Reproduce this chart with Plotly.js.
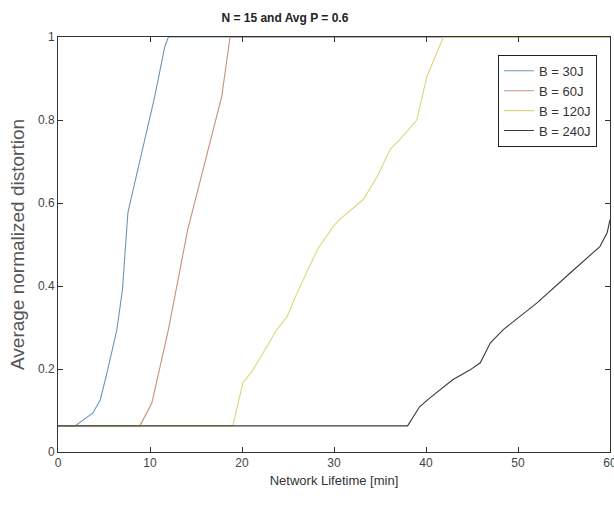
<!DOCTYPE html>
<html>
<head>
<meta charset="utf-8">
<script src="https://cdn.plot.ly/plotly-3.0.1.min.js"></script>
<style>html,body{margin:0;padding:0;background:#fff;}#chart{width:614px;height:512px;}</style>
</head>
<body>
<div id="chart"></div>
<script>
// Data
const seriesNames = ["B = 30J", "B = 60J", "B = 120J", "B = 240J"];

const x30 = [0, 1.85, 3.8, 4.6, 5.4, 6.4, 7.0, 7.3, 7.6, 8.0, 9.1, 10.5, 11.6, 12.0, 60];
const y30 = [0.063, 0.063, 0.094, 0.126, 0.198, 0.295, 0.39, 0.49, 0.577, 0.616, 0.72, 0.855, 0.976, 1.0, 1.0];

const x60 = [0, 8.9, 10.2, 12.0, 14.1, 16.0, 17.8, 18.7, 60];
const y60 = [0.063, 0.063, 0.118, 0.295, 0.536, 0.698, 0.857, 1.0, 1.0];

const x120 = [0, 19.0, 20.1, 21.2, 23.8, 24.9, 26.0, 28.2, 29.9, 30.6, 33.2, 34.7, 36.1, 37.2, 39.0, 39.3, 40.1, 41.9, 60];
const y120 = [0.063, 0.063, 0.167, 0.198, 0.295, 0.326, 0.384, 0.488, 0.543, 0.56, 0.609, 0.664, 0.729, 0.754, 0.80, 0.83, 0.905, 1.0, 1.0];

const x240 = [0, 38.0, 39.3, 40.4, 42.9, 44.8, 45.9, 47.0, 48.4, 52.1, 55.7, 58.9, 59.7, 60];
const y240 = [0.063, 0.063, 0.109, 0.13, 0.174, 0.198, 0.215, 0.263, 0.295, 0.36, 0.432, 0.495, 0.529, 0.56];

const xTicks = [0, 10, 20, 30, 40, 50, 60];
const yTicks = [0, 0.2, 0.4, 0.6, 0.8, 1];
const yTickText = ["0", "0.2", "0.4", "0.6", "0.8", "1"];

const colors = ["#6a97b8", "#c99079", "#dcd67a", "#3a3a3a"];
const xs = [x30, x60, x120, x240];
const ys = [y30, y60, y120, y240];

const FONT = "Liberation Sans, Arial, sans-serif";

const traces = xs.map((x, i) => ({
  x: x, y: ys[i], type: "scatter", mode: "lines", name: seriesNames[i],
  line: {color: colors[i], width: 1.1}
}));

const axisCommon = {
  showgrid: false, zeroline: false, showline: true, linecolor: "#333", linewidth: 1,
  mirror: "ticks", ticks: "inside", ticklen: 5, tickcolor: "#333",
  ticklabeloverflow: "allow",
  tickfont: {family: FONT, size: 12, color: "#444"}
};

const layout = {
  width: 614, height: 512,
  margin: {l: 58, r: 4, t: 37, b: 60},
  paper_bgcolor: "#fff", plot_bgcolor: "#fff",
  title: {text: "N = 15 and Avg P = 0.6", x: 0.464, xanchor: "center", y: 0.966, yanchor: "middle",
          font: {family: FONT, size: 12, color: "#222", weight: "bold"}},
  xaxis: Object.assign({}, axisCommon, {range: [0, 60], tickvals: xTicks,
    title: {text: "Network Lifetime [min]", standoff: 6, font: {family: FONT, size: 13, color: "#333"}}}),
  yaxis: Object.assign({}, axisCommon, {range: [0, 1], tickvals: yTicks, ticktext: yTickText,
    title: {text: "Average normalized distortion", standoff: 8, font: {family: FONT, size: 19, color: "#555"}}}),
  showlegend: true,
  legend: {x: 0.797, y: 0.957, xanchor: "left", yanchor: "top", bgcolor: "#fff",
    bordercolor: "#222", borderwidth: 1, font: {family: FONT, size: 13, color: "#333"},
    tracegroupgap: 0}
};

Plotly.newPlot("chart", traces, layout, {displayModeBar: false, staticPlot: true});
</script>
</body>
</html>
